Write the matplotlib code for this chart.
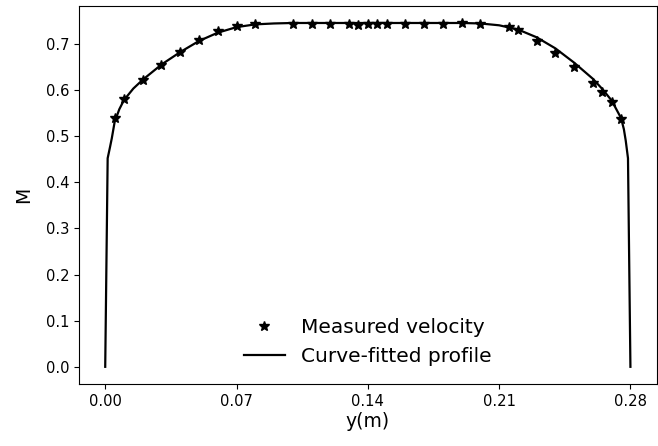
import matplotlib
matplotlib.use("Agg")
import matplotlib.pyplot as plt

# measured points
y_meas = [0.005, 0.01, 0.02, 0.03, 0.04, 0.05, 0.06, 0.07, 0.08, 0.10,
          0.11, 0.12, 0.13, 0.135, 0.14, 0.145, 0.15, 0.16, 0.17, 0.18,
          0.19, 0.20, 0.215, 0.22, 0.23, 0.24, 0.25, 0.26, 0.265, 0.27, 0.275]
m_meas = [0.539, 0.580, 0.621, 0.654, 0.683, 0.708, 0.727, 0.738, 0.742, 0.743,
          0.742, 0.742, 0.742, 0.741, 0.742, 0.742, 0.742, 0.743, 0.743, 0.743,
          0.744, 0.743, 0.737, 0.730, 0.706, 0.681, 0.650, 0.616, 0.595, 0.574, 0.537]

# fitted profile
y_fit = [0.0, 0.0013, 0.0025, 0.0035, 0.005, 0.0075, 0.01, 0.015, 0.02, 0.03,
         0.04, 0.05, 0.06, 0.07, 0.08, 0.09, 0.10, 0.12, 0.14, 0.16,
         0.18, 0.19, 0.20, 0.21, 0.22, 0.23, 0.24, 0.25, 0.26, 0.265,
         0.27, 0.275, 0.2765, 0.2775, 0.2787, 0.28]
m_fit = [0.0, 0.452, 0.475, 0.495, 0.530, 0.558, 0.578, 0.603, 0.622, 0.655,
         0.682, 0.706, 0.724, 0.736, 0.742, 0.744, 0.745, 0.745, 0.745, 0.745,
         0.745, 0.745, 0.744, 0.740, 0.731, 0.714, 0.690, 0.659, 0.624, 0.602,
         0.577, 0.539, 0.515, 0.490, 0.452, 0.0]

fig = plt.figure(figsize=(6.58, 4.46), dpi=100)
ax = fig.add_axes([0.120, 0.139, 0.878, 0.848])

ax.plot(y_meas, m_meas, '*', color='black', markersize=7, label='Measured velocity')
ax.plot(y_fit, m_fit, '-', color='black', linewidth=1.6, label='Curve-fitted profile')

ax.set_xticks([0.0, 0.07, 0.14, 0.21, 0.28])
ax.set_xticklabels(['0.00', '0.07', '0.14', '0.21', '0.28'])
ax.tick_params(labelsize=10.6)
ax.set_xlabel('y(m)', fontsize=13.5, labelpad=2)
ax.set_ylabel('M', fontsize=13.5, labelpad=9)
ax.legend(loc='lower center', frameon=False, fontsize=14.5)

plt.savefig('out.png', dpi=100)
